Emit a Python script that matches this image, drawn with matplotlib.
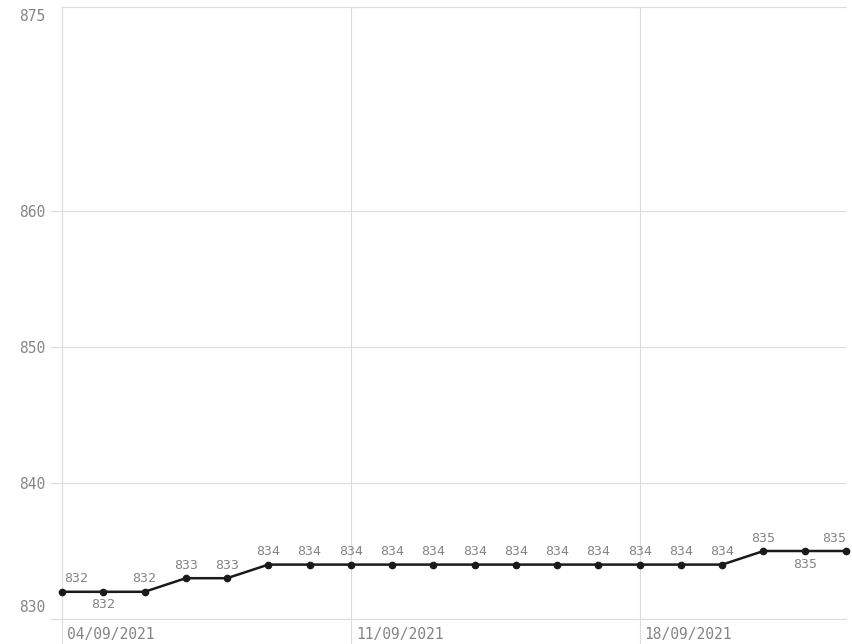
import matplotlib
matplotlib.use("Agg")
import matplotlib.pyplot as plt
import matplotlib.dates as mdates
import matplotlib.transforms as mtrans
import pandas as pd

dates = pd.date_range("2021-09-04", "2021-09-23", freq="D")
values = [832, 832, 832, 833, 833, 834, 834, 834, 834, 834,
          834, 834, 834, 834, 834, 834, 834, 835, 835, 835]
below = [1, 18]  # labels drawn under the point
y_ticks = [830, 840, 850, 860, 875]
x_ticks = pd.to_datetime(["2021-09-04", "2021-09-11", "2021-09-18"])

plt.rcParams['font.family'] = ['DejaVu Sans Mono']
grid_c = "#dcdcdc"
text_c = "#858585"

fig = plt.figure(figsize=(8.52, 6.44), dpi=100)
ax = fig.add_axes([62 / 852, 25 / 644, 784 / 852, 612 / 644])

ax.plot(dates, values, color="#1a1a1a", lw=1.8, marker="o", ms=4.5, clip_on=False, zorder=3)

# value labels
for i, (d, v) in enumerate(zip(dates, values)):
    ha = "center"
    if i == 0:
        ha = "left"
    elif i == len(values) - 1:
        ha = "right"
    off = -13 if i in below else 13
    ax.annotate(str(v), (d, v), xytext=(2 if i == 0 else 0, off), textcoords="offset pixels",
                ha=ha, va="center", fontsize=9.5, color=text_c)

ax.set_xlim(dates[0], dates[-1])
ax.set_ylim(830, 875)
ax.set_yticks(y_ticks)
ax.set_xticks(x_ticks)
ax.xaxis.set_major_formatter(mdates.DateFormatter("%d/%m/%Y"))

ax.spines["right"].set_visible(False)
for s in ["left", "top", "bottom"]:
    ax.spines[s].set_color(grid_c)
    ax.spines[s].set_linewidth(0.8)

ax.grid(True, color=grid_c, lw=0.8)
ax.tick_params(axis="y", length=9, width=0.8, color=grid_c, labelcolor=text_c, labelsize=10.5, pad=3)
ax.tick_params(axis="x", length=25, width=0.8, color=grid_c, labelcolor=text_c, labelsize=10.5, pad=-19)
ax.yaxis.get_major_ticks()[-1].tick1line.set_visible(False)

for lbl in ax.get_xticklabels():
    lbl.set_ha("left")
    lbl.set_transform(lbl.get_transform() + mtrans.ScaledTranslation(5 / 100, 0, fig.dpi_scale_trans))

yl = ax.get_yticklabels()
yl[0].set_va("bottom")
yl[-1].set_va("top")
yl[0].set_transform(yl[0].get_transform() + mtrans.ScaledTranslation(0, 4 / 100, fig.dpi_scale_trans))
yl[-1].set_transform(yl[-1].get_transform() + mtrans.ScaledTranslation(0, -2 / 100, fig.dpi_scale_trans))

fig.savefig("out.png", dpi=100)
